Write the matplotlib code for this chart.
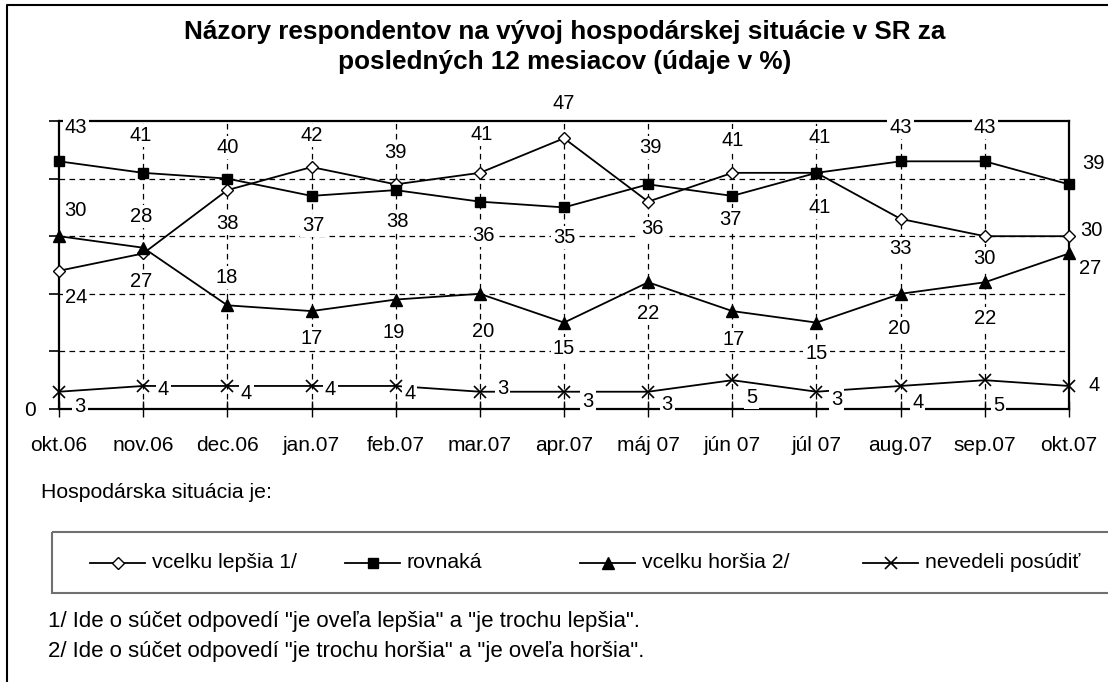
import matplotlib

matplotlib.use("Agg")
import matplotlib.pyplot as plt
from matplotlib.patches import Rectangle
import numpy as np

plt.rcParams["font.family"] = ["Liberation Sans", "DejaVu Sans"]

months = ["okt.06", "nov.06", "dec.06", "jan.07", "feb.07", "mar.07", "apr.07",
          "máj 07", "jún 07", "júl 07", "aug.07", "sep.07", "okt.07"]
lepsia = [24, 27, 38, 42, 39, 41, 47, 36, 41, 41, 33, 30, 30]
rovnaka = [43, 41, 40, 37, 38, 36, 35, 39, 37, 41, 43, 43, 39]
horsia = [30, 28, 18, 17, 19, 20, 15, 22, 17, 15, 20, 22, 27]
nevedeli = [3, 4, 4, 4, 4, 3, 3, 3, 5, 3, 4, 5, 4]

series_names = ["vcelku lepšia 1/", "rovnaká", "vcelku horšia 2/", "nevedeli posúdiť"]

title = "Názory respondentov na vývoj hospodárskej situácie v SR za\nposledných 12 mesiacov (údaje v %)"
footnotes = ['1/ Ide o súčet odpovedí "je oveľa lepšia" a "je trochu lepšia".',
             '2/ Ide o súčet odpovedí "je trochu horšia" a "je oveľa horšia".']

# label offsets in pixels (dx, dy), layout only
off_lepsia = [(17, -27), (-2, -28), (0, -33), (0, 32), (0, 32), (2, 38), (0, 35),
              (4, -27), (0, 32), (3, -35), (0, -30), (0, -22), (22, 6)]
off_rovnaka = [(17, 34), (-2, 37), (0, 31), (2, -30), (2, -31), (4, -34), (0, -30),
               (2, 37), (-2, -24), (3, 35), (0, 34), (0, 34), (24, 21)]
off_horsia = [(16, 26), (-2, 31), (-1, 28), (0, -27), (-2, -33), (3, -38), (0, -26),
              (0, -31), (1, -28), (0, -31), (-2, -35), (0, -36), (21, -15)]
off_nevedeli = [(21, -15), (20, -4), (19, -8), (19, -4), (14, -8), (23, 3), (24, -10),
                (19, -13), (19, -17), (20, -8), (17, -17), (14, -25), (25, 0)]

W, H = 1108, 682
fig = plt.figure(figsize=(W / 100, H / 100), dpi=100)

# pixel overlay for frame, legend box and free text
ov = fig.add_axes([0, 0, 1, 1], zorder=0)
ov.set_xlim(0, W)
ov.set_ylim(H, 0)
ov.axis("off")
ov.plot([7, 7, W + 5], [H + 5, 5, 5], color="black", lw=1.5)

ax = fig.add_axes([59 / W, (H - 409) / H, (1069 - 59) / W, (409 - 121) / H], zorder=2)
ax.set_facecolor("none")
x = np.arange(len(months))

styles = [
    dict(marker="D", ms=6.2, mfc="white", mec="black", mew=1.0),
    dict(marker="s", ms=7.0, mfc="black", mec="black"),
    dict(marker="^", ms=8.5, mfc="black", mec="black"),
    dict(marker="x", ms=8.0, mec="black", mew=1.2),
]
data = [lepsia, rovnaka, horsia, nevedeli]
offsets = [off_lepsia, off_rovnaka, off_horsia, off_nevedeli]

for vals, st in zip(data, styles):
    ax.plot(x, vals, color="black", lw=1.3, clip_on=False, zorder=4, **st)

for vals, offs in zip(data, offsets):
    for xi, v, (dx, dy) in zip(x, vals, offs):
        ax.annotate(str(v), (xi, v), xytext=(dx, dy), textcoords="offset pixels",
                    ha="center", va="center", fontsize=14.5, annotation_clip=False,
                    zorder=6,
                    bbox=dict(boxstyle="square,pad=0.1", fc="white", ec="none"))

ax.set_xlim(0, len(months) - 1)
ax.set_ylim(0, 50)
ax.set_yticks([0, 10, 20, 30, 40, 50])
ax.set_yticklabels(["0", "", "", "", "", ""])
ax.set_xticks(x)
ax.set_xticklabels(months)
ax.tick_params(axis="y", direction="out", length=7, width=1.2, pad=10, labelsize=15)
ax.tick_params(axis="x", direction="inout", length=11, width=1.0, pad=14, labelsize=15)
for sp in ax.spines.values():
    sp.set_linewidth(1.6)
    sp.set_zorder(3)

for gy in [10, 20, 30, 40]:
    ax.axhline(gy, color="black", lw=0.9, ls=(0, (4.5, 3.5)), zorder=1)
for gx in x[1:-1]:
    ax.axvline(gx, color="black", lw=0.9, ls=(0, (4.5, 3.5)), zorder=1)

fig.text(565 / W, 1 - 47 / H, title, ha="center", va="center", fontsize=18.8,
         fontweight="bold", linespacing=1.3)

ov.text(41, 492, "Hospodárska situácia je:", ha="left", va="center", fontsize=15.3)
ov.add_patch(Rectangle((52, 532), W, 61, fill=False, ec="#707070", lw=1.5))

leg_x = [90, 345, 580, 863]
for lx, name, st in zip(leg_x, series_names, styles):
    ov.plot([lx, lx + 55], [563, 563], color="black", lw=1.3)
    ov.plot([lx + 27.5], [563], color="black", **st)
    ov.text(lx + 62, 563, name, ha="left", va="center", fontsize=15.3)

ov.text(48, 622, footnotes[0], ha="left", va="center", fontsize=16)
ov.text(48, 651, footnotes[1], ha="left", va="center", fontsize=16)

fig.savefig("out.png", dpi=100)
